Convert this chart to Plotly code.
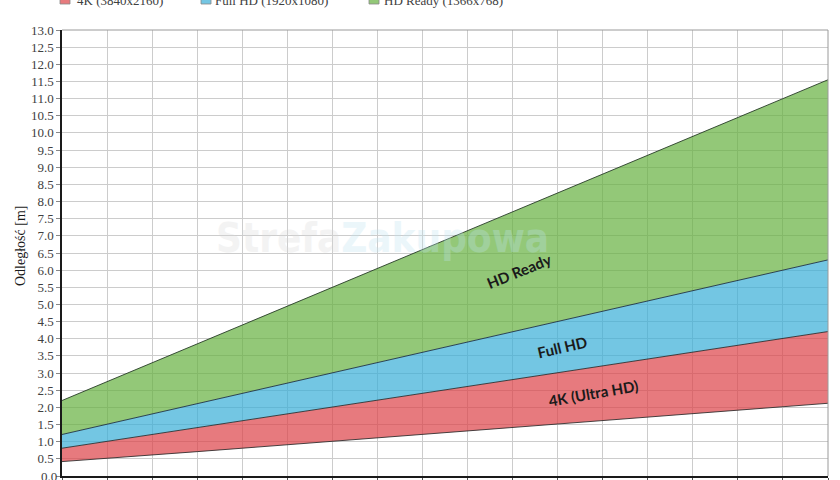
import plotly.graph_objects as go

# TV diagonal (inches) – category axis (labels are outside the visible frame)
sizes = ["16", "20", "24", "28", "32", "36", "40", "44", "48", "52", "56", "60", "64", "68", "72", "76", "80", "84"]

# distance boundaries in metres
min_4k = [0.42, 0.51, 0.61, 0.71, 0.81, 0.91, 1.01, 1.11, 1.21, 1.31, 1.42, 1.52, 1.62, 1.72, 1.82, 1.92, 2.02, 2.12]
max_4k = [0.81, 1.01, 1.21, 1.41, 1.61, 1.81, 2.01, 2.21, 2.41, 2.61, 2.81, 3.01, 3.21, 3.41, 3.61, 3.81, 4.01, 4.21]
max_fhd = [1.21, 1.51, 1.81, 2.11, 2.41, 2.71, 3.01, 3.31, 3.61, 3.91, 4.21, 4.51, 4.81, 5.11, 5.41, 5.71, 6.01, 6.30]
max_hdr = [2.20, 2.75, 3.30, 3.85, 4.40, 4.95, 5.50, 6.05, 6.60, 7.15, 7.70, 8.25, 8.80, 9.35, 9.90, 10.45, 11.00, 11.55]

legend_names = ["4K (3840x2160)", "Full HD (1920x1080)", "HD Ready (1366x768)"]
band_labels = ["4K (Ultra HD)", "Full HD", "HD Ready"]

x = list(range(len(sizes)))

fill_red = "rgba(221,66,71,0.7)"
fill_blue = "rgba(56,174,215,0.7)"
fill_green = "rgba(101,176,62,0.7)"
solid = ["#e77b7e", "#74c6e3", "#93c878"]
edge = "rgba(40,40,40,0.85)"

fig = go.Figure()
fig.add_trace(go.Scatter(x=x, y=min_4k, mode="lines", line=dict(color=edge, width=1),
                         showlegend=False, hoverinfo="skip"))
fig.add_trace(go.Scatter(x=x, y=max_4k, mode="lines", fill="tonexty", fillcolor=fill_red,
                         line=dict(color=edge, width=1), name=legend_names[0], showlegend=False, hoverinfo="skip"))
fig.add_trace(go.Scatter(x=x, y=max_fhd, mode="lines", fill="tonexty", fillcolor=fill_blue,
                         line=dict(color="rgba(30,50,70,0.9)", width=1), name=legend_names[1], showlegend=False, hoverinfo="skip"))
fig.add_trace(go.Scatter(x=x, y=max_hdr, mode="lines", fill="tonexty", fillcolor=fill_green,
                         line=dict(color="rgba(40,60,40,0.9)", width=1), name=legend_names[2], showlegend=False, hoverinfo="skip"))

serif = "Liberation Serif"

fig.update_layout(
    width=840, height=480,
    margin=dict(l=62, r=12, t=30, b=4, autoexpand=False),
    paper_bgcolor="white", plot_bgcolor="white",
    font=dict(family=serif, size=13, color="#404040"),
    xaxis=dict(range=[0, len(sizes) - 1], tickvals=x, ticktext=sizes, showticklabels=False,
               showgrid=True, gridcolor="#cccccc", gridwidth=1, zeroline=False,
               showline=True, linecolor="#1a1a1a", linewidth=1.5,
               ticks="outside", ticklen=4, tickcolor="#555555"),
    yaxis=dict(range=[0, 13], dtick=0.5, tick0=0, tickformat=".1f",
               showgrid=True, gridcolor="#cccccc", gridwidth=1, zeroline=False,
               showline=True, linecolor="#1a1a1a", linewidth=1.5,
               ticks="outside", ticklen=4, tickcolor="#888888",
               tickfont=dict(family=serif, size=13, color="#404040")),
)

# right / top frame
fig.add_shape(type="line", xref="paper", yref="paper", x0=1, x1=1, y0=0, y1=1,
              line=dict(color="#9a9a9a", width=1))
fig.add_shape(type="line", xref="paper", yref="paper", x0=0, x1=1, y0=1, y1=1,
              line=dict(color="#9a9a9a", width=1))

# bottom tick label (plotly drops it because it reaches the page edge)
fig.add_annotation(xref="paper", yref="y", x=(59 - 62) / 766, y=0, xanchor="right", yanchor="middle",
                   text="0.0", showarrow=False, font=dict(family=serif, size=13, color="#404040"))

# watermark
fig.add_annotation(xref="paper", yref="paper", x=(382 - 62) / 766, y=(476 - 238) / 446,
                   xanchor="center", yanchor="middle",
                   text="<b>Strefa<span style='color:#bfe3f0'>Zakupowa</span></b>", showarrow=False,
                   font=dict(family="DejaVu Sans Condensed", size=40, color="#d9d9d9"), opacity=0.3)

# y axis title
fig.add_annotation(xref="paper", yref="paper", x=(21 - 62) / 766, y=(476 - 246) / 446,
                   xanchor="center", yanchor="middle",
                   text="Odległość [m]", textangle=-90, showarrow=False,
                   font=dict(family=serif, size=14, color="#1a1a1a"))

# legend (partly cut by the top edge)
leg_sq = [60, 201, 369]
leg_tx = [75, 213, 382]
for sx, tx, name, col in zip(leg_sq, leg_tx, legend_names, solid):
    fig.add_shape(type="rect", xref="paper", yref="paper",
                  x0=(sx - 62) / 766, x1=(sx + 10 - 62) / 766,
                  y0=(476 - 4) / 446, y1=(476 + 6) / 446,
                  fillcolor=col, line=dict(color="#888888", width=0.8))
    fig.add_annotation(xref="paper", yref="paper", x=(tx - 62) / 766, y=(476 + 0) / 446,
                       xanchor="left", yanchor="middle", text=name, showarrow=False,
                       font=dict(family=serif, size=13, color="#404040"))

# band labels
band_pos = [(593, 393, -10), (562, 347, -13), (519, 271, -22)]
for (px, py, ang), lab in zip(band_pos, band_labels):
    fig.add_annotation(xref="paper", yref="paper", x=(px - 62) / 766, y=(476 - py) / 446,
                       xanchor="center", yanchor="middle",
                       text="<b>" + lab + "</b>", textangle=ang, showarrow=False,
                       font=dict(family="Lato", size=15, color="#1a1a1a"))

fig.write_html("out.html", config={"displayModeBar": False},
               post_script="document.body.style.margin='0px';")
